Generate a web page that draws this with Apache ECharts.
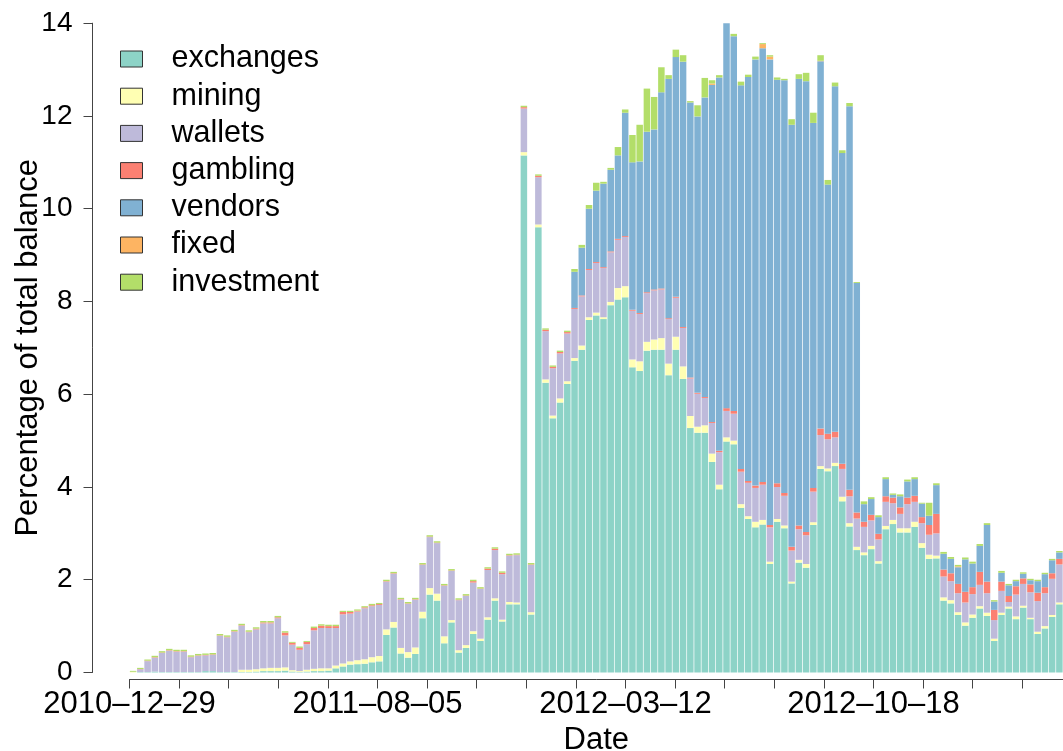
<!DOCTYPE html>
<html>
<head>
<meta charset="utf-8">
<script src="https://cdn.jsdelivr.net/npm/echarts@6/dist/echarts.min.js"></script>
<style>
  html, body { margin: 0; padding: 0; background: #fff; }
  #main { width: 1063px; height: 751px; }
</style>
</head>
<body>
<div id="main"></div>
<script>
// date tick labels (every 5th axis tick)
const tickLabels = ['2010–12–29', '2011–08–05', '2012–03–12', '2012–10–18']

// percentage of total balance per period, one value per bar
const exchanges = [
  0, 0.01, 0.01, 0.02, 0.01, 0.01, 0.01, 0.01, 0.01, 0.01, 0.03, 0.03, 0.01, 0.01, 0.01, 0.01,
  0.01, 0.02, 0.03, 0.03, 0.03, 0.04, 0.02, 0.01, 0.02, 0.03, 0.03, 0.04, 0.09, 0.13, 0.17, 0.18,
  0.19, 0.22, 0.24, 0.81, 0.97, 0.41, 0.32, 0.40, 1.17, 1.68, 1.55, 0.63, 1.08, 0.43, 0.53, 0.83,
  0.68, 1.14, 1.55, 1.10, 1.47, 1.47, 11.15, 1.25, 9.60, 6.25, 5.48, 5.82, 6.22, 6.72, 6.96, 7.60,
  7.70, 7.62, 7.92, 8.04, 8.09, 6.58, 6.50, 6.94, 6.96, 6.96, 6.41, 6.96, 6.33, 5.27, 5.17, 5.17,
  4.54, 3.95, 4.98, 4.92, 3.55, 3.31, 3.13, 3.19, 2.34, 3.25, 3.11, 1.92, 2.37, 2.26, 3.18, 4.39,
  4.34, 4.45, 3.69, 3.15, 2.64, 2.53, 2.66, 2.35, 3.09, 3.20, 3.02, 3.02, 3.14, 2.69, 2.45, 2.46,
  1.55, 1.49, 1.24, 1.01, 1.18, 1.38, 1.22, 0.68, 1.24, 1.38, 1.15, 1.40, 1.15, 0.83, 0.95, 1.20,
  1.47
]
const mining = [
  0.01, 0, 0, 0, 0, 0, 0, 0, 0, 0, 0, 0, 0, 0, 0, 0.05,
  0.05, 0.05, 0.06, 0.07, 0.07, 0.07, 0.03, 0.02, 0.04, 0.05, 0.06, 0.05, 0.06, 0.065, 0.07, 0.085,
  0.095, 0.11, 0.115, 0.12, 0.12, 0.12, 0.12, 0.14, 0.14, 0.14, 0.15, 0.15, 0.05, 0.05, 0.06, 0.06,
  0.05, 0.05, 0.05, 0.04, 0.05, 0.04, 0.07, 0.05, 0.06, 0.07, 0.06, 0.09, 0.06, 0.06, 0.09, 0.06,
  0.06, 0.04, 0.07, 0.25, 0.24, 0.17, 0.21, 0.19, 0.22, 0.25, 0.25, 0.28, 0.27, 0.26, 0.13, 0.16,
  0.18, 0.10, 0.09, 0.08, 0.08, 0.06, 0.12, 0.10, 0.05, 0.06, 0.06, 0.04, 0.06, 0.08, 0.06, 0.06,
  0.06, 0.07, 0.10, 0.07, 0.07, 0.06, 0.07, 0.05, 0.07, 0.09, 0.09, 0.09, 0.11, 0.10, 0.09, 0.06,
  0.07, 0.07, 0.06, 0.07, 0.07, 0.05, 0.07, 0.05, 0.05, 0.04, 0.06, 0.04, 0.03, 0.05, 0.05, 0.04,
  0.04
]
const wallets = [
  0.005, 0.06, 0.235, 0.30, 0.41, 0.46, 0.44, 0.44, 0.32, 0.35, 0.34, 0.35, 0.78, 0.75, 0.87, 0.95,
  0.81, 0.86, 0.97, 0.96, 1.07, 0.69, 0.55, 0.46, 0.55, 0.83, 0.87, 0.87, 0.81, 1.06, 1.03, 1.05,
  1.10, 1.10, 1.10, 1.03, 1.04, 1.04, 1.04, 1.03, 1.01, 1.10, 1.09, 1.09, 1.06, 1.08, 1.06, 1.05,
  1.07, 1.02, 1.04, 0.98, 1.00, 1.02, 0.94, 1.02, 1.02, 1.04, 1.02, 0.97, 1.03, 1.06, 1.06, 1.02,
  1.07, 1.06, 1.07, 1.04, 1.06, 1.05, 1.02, 1.05, 1.06, 1.05, 0.96, 0.84, 0.83, 0.81, 0.71, 0.59,
  0.66, 0.70, 0.57, 0.58, 0.70, 0.72, 0.73, 0.76, 0.74, 0.69, 0.64, 0.67, 0.66, 0.62, 0.66, 0.67,
  0.63, 0.55, 0.60, 0.58, 0.61, 0.55, 0.55, 0.47, 0.52, 0.36, 0.31, 0.52, 0.43, 0.43, 0.43, 0.48,
  0.45, 0.41, 0.41, 0.43, 0.44, 0.46, 0.42, 0.40, 0.47, 0.10, 0.47, 0.47, 0.55, 0.66, 0.71, 0.78,
  0.82
]
const gambling = [
  0, 0.005, 0.01, 0.01, 0.01, 0.01, 0.01, 0.01, 0.01, 0.01, 0.01, 0.01, 0.01, 0.01, 0.01, 0.01,
  0.01, 0.015, 0.02, 0.02, 0.02, 0.06, 0.04, 0.04, 0.05, 0.05, 0.05, 0.04, 0.04, 0.05, 0.035, 0.02,
  0.02, 0.02, 0.02, 0.01, 0.01, 0.01, 0.01, 0.01, 0.01, 0.01, 0.01, 0.01, 0.01, 0.01, 0.01, 0.03,
  0.01, 0.03, 0.03, 0.03, 0.01, 0.01, 0.03, 0.01, 0.03, 0.03, 0.03, 0.03, 0.03, 0.02, 0.02, 0.02,
  0.02, 0.02, 0.02, 0.02, 0.02, 0.02, 0.02, 0.02, 0.02, 0.02, 0.02, 0.02, 0.02, 0.02, 0.02, 0.02,
  0.02, 0.03, 0.06, 0.06, 0.06, 0.04, 0.05, 0.06, 0.05, 0.08, 0.06, 0.08, 0.08, 0.07, 0.08, 0.14,
  0.12, 0.12, 0.11, 0.14, 0.13, 0.11, 0.12, 0.12, 0.12, 0.12, 0.14, 0.14, 0.13, 0.13, 0.21, 0.42,
  0.15, 0.17, 0.20, 0.23, 0.15, 0.28, 0.25, 0.22, 0.20, 0.13, 0.18, 0.12, 0.17, 0.18, 0.13, 0.12,
  0.12
]
const vendors = [
  0, 0, 0, 0, 0, 0, 0, 0, 0, 0, 0, 0, 0, 0, 0, 0,
  0, 0, 0, 0, 0, 0, 0, 0, 0, 0, 0, 0, 0, 0, 0, 0,
  0, 0, 0, 0, 0, 0, 0, 0, 0, 0, 0, 0, 0, 0, 0, 0,
  0, 0, 0, 0, 0, 0, 0, 0, 0, 0, 0, 0, 0, 0.78, 1.03, 1.30,
  1.54, 1.80, 1.76, 1.80, 2.66, 3.18, 3.27, 3.46, 3.45, 4.23, 5.16, 5.17, 5.72, 5.93, 5.96, 6.46,
  7.27, 8.05, 8.35, 8.08, 8.27, 8.71, 9.19, 9.35, 10.04, 8.70, 8.90, 9.10, 9.63, 9.72, 7.87, 7.92,
  5.37, 7.45, 6.70, 8.27, 4.95, 0.38, 0.34, 0.36, 0.37, 0.06, 0.24, 0.35, 0.36, 0.29, 0.20, 0.62,
  0.34, 0.31, 0.36, 0.70, 0.51, 0.56, 1.22, 0.18, 0.19, 0.23, 0.11, 0.10, 0.09, 0.25, 0.28, 0.28,
  0.14
]
const fixed = [
  0, 0, 0, 0, 0, 0, 0, 0, 0, 0, 0, 0, 0, 0, 0, 0,
  0, 0, 0, 0, 0, 0, 0, 0, 0, 0, 0, 0, 0, 0, 0, 0,
  0, 0, 0, 0, 0, 0, 0, 0, 0, 0, 0, 0, 0, 0, 0, 0,
  0, 0, 0, 0, 0, 0, 0, 0, 0, 0, 0, 0, 0, 0, 0, 0,
  0, 0, 0, 0, 0, 0, 0, 0, 0, 0, 0, 0, 0, 0, 0, 0,
  0.03, 0, 0.01, 0, 0, 0, 0, 0.09, 0.06, 0, 0, 0, 0, 0, 0, 0.01,
  0, 0, 0, 0, 0, 0, 0, 0, 0, 0, 0, 0, 0, 0, 0, 0,
  0, 0, 0.02, 0, 0, 0, 0, 0, 0, 0, 0, 0, 0, 0, 0, 0,
  0
]
const investment = [
  0.02, 0.025, 0.025, 0.03, 0.03, 0.03, 0.03, 0.03, 0.03, 0.03, 0.03, 0.03, 0.03, 0.03, 0.03, 0.03,
  0.03, 0.03, 0.03, 0.03, 0.03, 0.03, 0.02, 0.03, 0.02, 0.03, 0.03, 0.03, 0.03, 0.025, 0.025, 0.025,
  0.025, 0.03, 0.025, 0.03, 0.03, 0.03, 0.03, 0.03, 0.03, 0.03, 0.03, 0.03, 0.03, 0.03, 0.03, 0.03,
  0.03, 0.03, 0.03, 0.03, 0.03, 0.03, 0.03, 0.03, 0.03, 0.03, 0.03, 0.03, 0.03, 0.06, 0.06, 0.08,
  0.17, 0.04, 0.04, 0.18, 0.07, 0.59, 0.79, 0.93, 0.70, 0.54, 0.08, 0.16, 0.14, 0.03, 0.24, 0.42,
  0.07, 0.05, 0.01, 0.05, 0.08, 0.05, 0.06, 0.02, 0.03, 0.05, 0.03, 0.12, 0.10, 0.18, 0.22, 0.12,
  0.10, 0.08, 0.06, 0.07, 0.02, 0.06, 0.04, 0.04, 0.04, 0.03, 0.04, 0.04, 0.04, 0.02, 0.28, 0.04,
  0.04, 0.04, 0.03, 0.04, 0.04, 0.04, 0.04, 0.03, 0.04, 0.03, 0.03, 0.03, 0.03, 0.03, 0.03, 0.03,
  0.03
]

const seriesNames = ['exchanges', 'mining', 'wallets', 'gambling', 'vendors', 'fixed', 'investment']
const seriesData = [exchanges, mining, wallets, gambling, vendors, fixed, investment]
const colors = ['#8dd3c7', '#ffffb3', '#bebada', '#fb8072', '#80b1d3', '#fdb462', '#b3de69']
const periods = exchanges.map((v, i) => i + 1)

const font = '"Liberation Sans", Arial, Helvetica, sans-serif'
const axisColor = '#444'

// px between date ticks (5 ticks per label) and plot width
const plotLeft = 129.5
const plotWidth = 1063 - plotLeft
const tickStep = 49.6

const chart = echarts.init(document.getElementById('main'))
chart.setOption({
  animation: false,
  color: colors,
  textStyle: { fontFamily: font },
  grid: {
    left: plotLeft,
    right: 0,
    top: 23.2,
    bottom: 78.5,
    outerBoundsMode: 'none',
    containLabel: false
  },
  legend: {
    data: seriesNames,
    orient: 'vertical',
    left: 115,
    top: 38.5,
    itemWidth: 22,
    itemHeight: 16,
    itemGap: 6.2,
    icon: 'rect',
    itemStyle: { borderColor: '#333', borderWidth: 1 },
    textStyle: {
      fontSize: 30.5,
      color: '#000',
      lineHeight: 30,
      padding: [0, 0, 0, 24]
    }
  },
  xAxis: [
    {
      type: 'category',
      data: periods,
      show: false
    },
    {
      type: 'value',
      min: 0,
      max: plotWidth / tickStep,
      interval: 1,
      position: 'bottom',
      offset: 7,
      axisLine: { show: true, onZero: false, lineStyle: { color: axisColor, width: 1 } },
      axisTick: { show: true, length: 9, lineStyle: { color: axisColor } },
      splitLine: { show: false },
      axisLabel: {
        fontSize: 31,
        color: '#000',
        margin: 9,
        showMaxLabel: false,
        formatter: function(v) {
          return v % 5 === 0 ? (tickLabels[v / 5] || '') : ''
        }
      },
      name: 'Date',
      nameLocation: 'middle',
      nameGap: 45,
      nameMoveOverlap: false,
      nameTextStyle: { fontSize: 31, color: '#000' }
    }
  ],
  yAxis: {
    type: 'value',
    min: 0,
    max: 14,
    interval: 2,
    offset: 37,
    axisLine: { show: true, onZero: false, lineStyle: { color: axisColor, width: 1 } },
    axisTick: { show: true, length: 9, lineStyle: { color: axisColor } },
    splitLine: { show: false },
    axisLabel: { fontSize: 28, color: '#000', margin: 20 },
    name: 'Percentage of total balance',
    nameLocation: 'middle',
    nameGap: 49,
    nameMoveOverlap: false,
    nameTextStyle: { fontSize: 31, color: '#000' }
  },
  series: seriesNames.map((name, k) => ({
    name: name,
    type: 'bar',
    stack: 'total',
    xAxisIndex: 0,
    yAxisIndex: 0,
    barCategoryGap: '10%',
    data: seriesData[k]
  }))
})
</script>
</body>
</html>
